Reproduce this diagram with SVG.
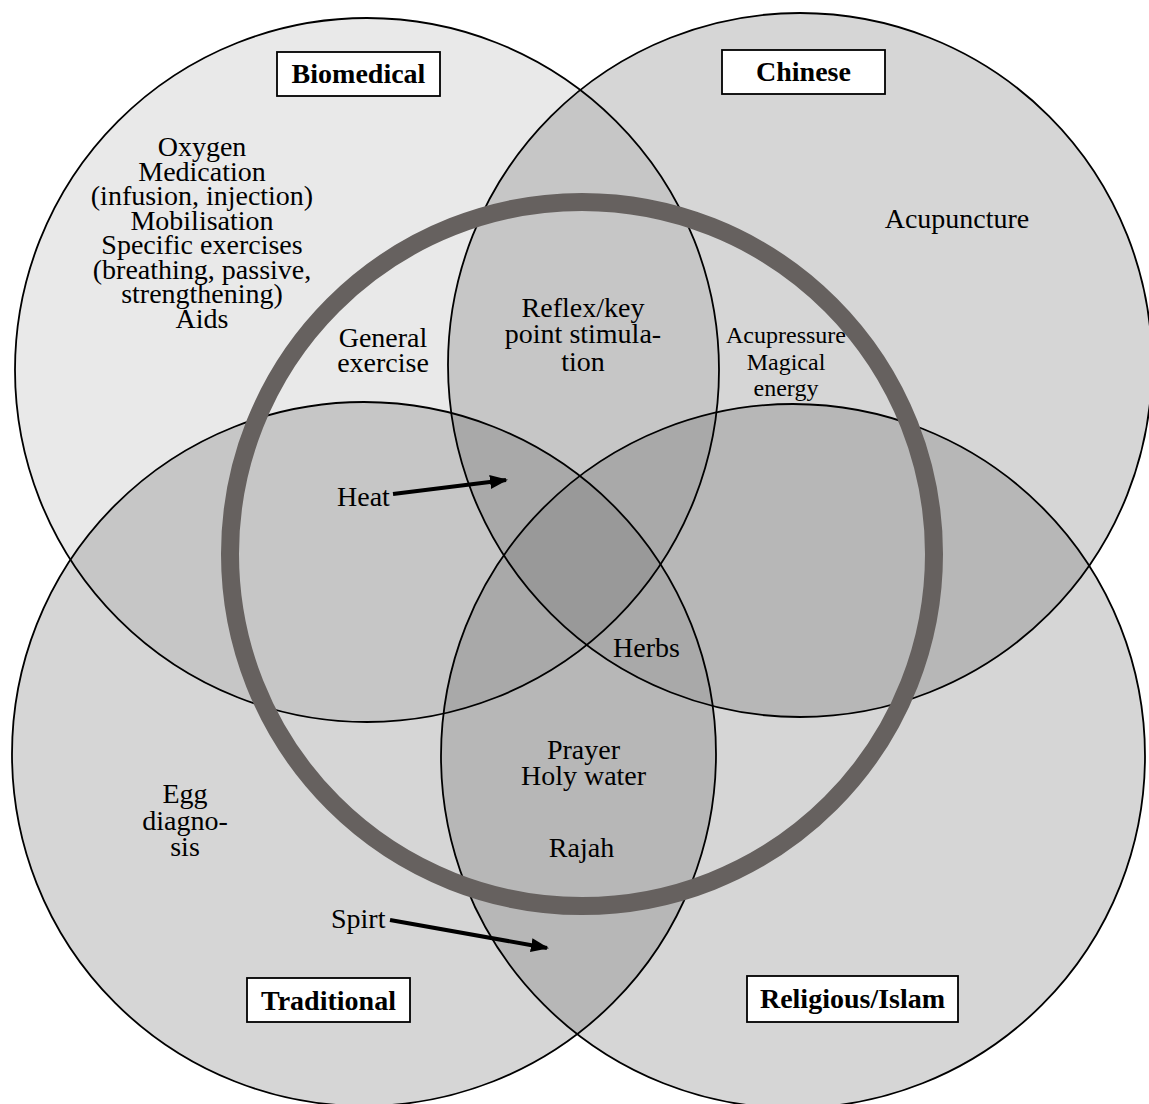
<svg xmlns="http://www.w3.org/2000/svg" xmlns:xlink="http://www.w3.org/1999/xlink" width="1149" height="1104" viewBox="0 0 1149 1104">
<style>
.outline{fill:none;stroke:#000;stroke-width:1.8}
.ring{fill:none;stroke:#66615f;stroke-width:18}
.box{fill:#fff;stroke:#000;stroke-width:1.8}
.lbl{font-family:"Liberation Serif","Times New Roman",serif;font-weight:bold;font-size:28px;text-anchor:middle;fill:#000}
.t{font-family:"Liberation Serif","Times New Roman",serif;font-size:28px;text-anchor:middle;fill:#000}
.s{font-family:"Liberation Serif","Times New Roman",serif;font-size:24px;text-anchor:middle;fill:#000}
.arrow{stroke:#000;stroke-width:4;fill:none;marker-end:url(#head)}
</style>
<defs>
<circle id="B" cx="367" cy="370" r="352"/>
<circle id="C" cx="800" cy="365" r="352"/>
<circle id="T" cx="364" cy="754" r="352"/>
<circle id="R" cx="793" cy="756" r="352"/>
<clipPath id="cB"><use xlink:href="#B"/></clipPath>
<clipPath id="cC"><use xlink:href="#C"/></clipPath>
<clipPath id="cT"><use xlink:href="#T"/></clipPath>
<marker id="head" markerUnits="userSpaceOnUse" markerWidth="18" markerHeight="14" refX="16" refY="7" orient="auto">
<path d="M0,0 L18,7 L0,14 z" fill="#000"/>
</marker>
</defs>
<rect width="1149" height="1104" fill="#fff"/>
<g id="fills">
<use xlink:href="#B" fill="#e9e9e9"/>
<use xlink:href="#C" fill="#d6d6d6"/>
<use xlink:href="#T" fill="#d6d6d6"/>
<use xlink:href="#R" fill="#d6d6d6"/>
<g clip-path="url(#cB)"><use xlink:href="#C" fill="#c6c6c6"/><use xlink:href="#T" fill="#c6c6c6"/><use xlink:href="#R" fill="#c6c6c6"/></g>
<g clip-path="url(#cC)"><use xlink:href="#T" fill="#b7b7b7"/><use xlink:href="#R" fill="#b7b7b7"/></g>
<g clip-path="url(#cT)"><use xlink:href="#R" fill="#b7b7b7"/></g>
<g clip-path="url(#cB)"><g clip-path="url(#cC)"><use xlink:href="#T" fill="#a9a9a9"/><use xlink:href="#R" fill="#a9a9a9"/></g><g clip-path="url(#cT)"><use xlink:href="#R" fill="#a9a9a9"/></g></g>
<g clip-path="url(#cC)"><g clip-path="url(#cT)"><use xlink:href="#R" fill="#a9a9a9"/></g></g>
<g clip-path="url(#cB)"><g clip-path="url(#cC)"><g clip-path="url(#cT)"><use xlink:href="#R" fill="#999999"/></g></g></g>
</g>
<g id="outlines">
<use xlink:href="#B" class="outline"/>
<use xlink:href="#C" class="outline"/>
<use xlink:href="#T" class="outline"/>
<use xlink:href="#R" class="outline"/>
</g>
<g id="ring"><circle class="ring" cx="582" cy="554" r="352"/></g>
<g id="node-biomedical">
<rect class="box" x="277" y="52" width="163" height="44"/>
<text class="lbl" x="358.5" y="83">Biomedical</text>
<text class="t" x="202" y="156">Oxygen</text>
<text class="t" x="202" y="180.5">Medication</text>
<text class="t" x="202" y="205">(infusion, injection)</text>
<text class="t" x="202" y="229.5">Mobilisation</text>
<text class="t" x="202" y="254">Specific exercises</text>
<text class="t" x="202" y="278.5">(breathing, passive,</text>
<text class="t" x="202" y="303">strengthening)</text>
<text class="t" x="202" y="327.5">Aids</text>
<text class="t" x="383" y="347">General</text>
<text class="t" x="383" y="372">exercise</text>
</g>
<g id="node-chinese">
<rect class="box" x="722" y="50" width="163" height="44"/>
<text class="lbl" x="803.5" y="81">Chinese</text>
<text class="t" x="957" y="228">Acupuncture</text>
<text class="s" x="786" y="343">Acupressure</text>
<text class="s" x="786" y="370">Magical</text>
<text class="s" x="786" y="396">energy</text>
</g>
<g id="node-overlap-center">
<text class="t" x="583" y="317">Reflex/key</text>
<text class="t" x="583" y="343">point stimula-</text>
<text class="t" x="583" y="371">tion</text>
<text class="t" x="337" y="506" style="text-anchor:start">Heat</text>
<text class="t" x="613" y="657" style="text-anchor:start">Herbs</text>
<text class="t" x="583.5" y="759">Prayer</text>
<text class="t" x="583.5" y="785">Holy water</text>
<text class="t" x="581.5" y="857">Rajah</text>
</g>
<g id="node-traditional">
<rect class="box" x="247" y="978" width="163" height="44"/>
<text class="lbl" x="328.5" y="1010">Traditional</text>
<text class="t" x="185" y="803">Egg</text>
<text class="t" x="185" y="830">diagno-</text>
<text class="t" x="185" y="856">sis</text>
<text class="t" x="331" y="928" style="text-anchor:start">Spirt</text>
</g>
<g id="node-religious">
<rect class="box" x="747" y="976" width="211" height="46"/>
<text class="lbl" x="852.5" y="1008">Religious/Islam</text>
</g>
<g id="connectors">
<line class="arrow" x1="393" y1="494" x2="506" y2="480"/>
<line class="arrow" x1="390" y1="920" x2="547" y2="948"/>
</g>
</svg>
